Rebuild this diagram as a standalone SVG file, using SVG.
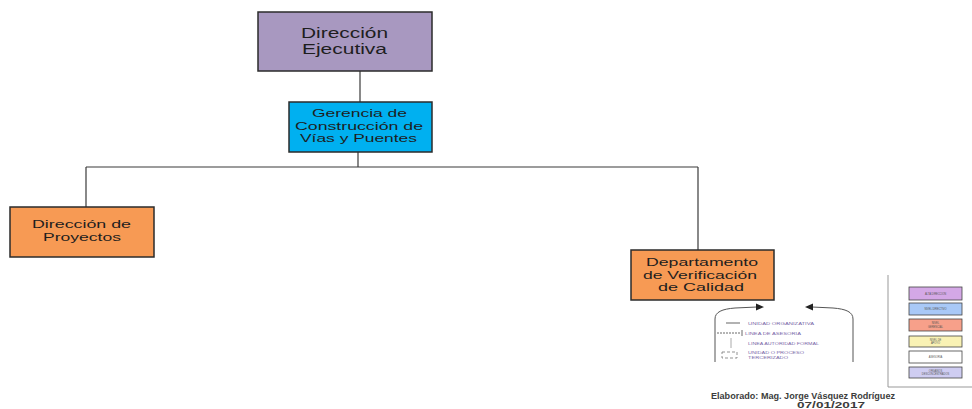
<svg xmlns="http://www.w3.org/2000/svg" width="972" height="409" viewBox="0 0 972 409">
<style>
.box{stroke:#2b2b2b;stroke-width:1.5}
.t{font-family:"Liberation Sans",Arial,sans-serif;fill:#1e1e1e;text-anchor:middle}
.t1{font-size:14px}
.t2{font-size:11px}
.t3{font-size:11.5px}
.con{stroke:#3a3a3a;stroke-width:1.2;fill:none}
.leg{stroke:#555;stroke-width:1;fill:none}
.lt{font-family:"Liberation Sans",Arial,sans-serif;font-size:4.2px;fill:#7a68a8}
.rb{stroke:#444;stroke-width:0.8}
.rt{font-family:"Liberation Sans",Arial,sans-serif;font-size:2.6px;fill:#555;text-anchor:middle}
.ft{font-family:"Liberation Sans",Arial,sans-serif;font-size:9px;fill:#3c3c3c;font-weight:bold}
</style>
<rect width="972" height="409" fill="#ffffff"/>
<g id="connectors">
<line class="con" x1="360" y1="71" x2="360" y2="102"/>
<line class="con" x1="358" y1="152" x2="358" y2="167"/>
<line class="con" x1="86" y1="167" x2="698" y2="167"/>
<line class="con" x1="86" y1="167" x2="86" y2="207"/>
<line class="con" x1="698" y1="167" x2="698" y2="250"/>
</g>
<g id="direccion-ejecutiva">
<rect class="box" x="258" y="12" width="174" height="59" fill="#a898c0"/>
<text class="t t1" x="344.5" y="38" textLength="87" lengthAdjust="spacingAndGlyphs">Dirección</text>
<text class="t t1" x="344.5" y="54" textLength="85" lengthAdjust="spacingAndGlyphs">Ejecutiva</text>
</g>
<g id="gerencia">
<rect class="box" x="289" y="102" width="143" height="50" fill="#00b0f0"/>
<text class="t t2" x="359.5" y="117" textLength="95" lengthAdjust="spacingAndGlyphs">Gerencia de</text>
<text class="t t2" x="359" y="129.5" textLength="128" lengthAdjust="spacingAndGlyphs">Construcción de</text>
<text class="t t2" x="358.5" y="142" textLength="117" lengthAdjust="spacingAndGlyphs">Vías y Puentes</text>
</g>
<g id="direccion-proyectos">
<rect class="box" x="10" y="207" width="144" height="50" fill="#f79a54"/>
<text class="t t3" x="81.5" y="228" textLength="99" lengthAdjust="spacingAndGlyphs">Dirección de</text>
<text class="t t3" x="82" y="240.5" textLength="78" lengthAdjust="spacingAndGlyphs">Proyectos</text>
</g>
<g id="departamento-verificacion">
<rect class="box" x="631" y="250" width="143" height="50" fill="#f79a54"/>
<text class="t t3" x="702" y="266" textLength="112" lengthAdjust="spacingAndGlyphs">Departamento</text>
<text class="t t3" x="700" y="278.5" textLength="114" lengthAdjust="spacingAndGlyphs">de Verificación</text>
<text class="t t3" x="701" y="291" textLength="86" lengthAdjust="spacingAndGlyphs">de Calidad</text>
</g>
<g id="legend-lines">
<path class="leg" d="M715,362 L715,319 C715,312 722,309 735,308"/>
<line x1="735" y1="308" x2="757" y2="307" stroke="#555" stroke-width="1"/>
<path d="M764,307 L756,303.5 L756,310.5 Z" fill="#222" stroke="none"/>
<path class="leg" d="M853,362 L853,319 C853,312 846,309 833,308"/>
<line x1="833" y1="308" x2="812" y2="307" stroke="#555" stroke-width="1"/>
<path d="M805,307 L813,303.5 L813,310.5 Z" fill="#222" stroke="none"/>
<line x1="726" y1="323" x2="740" y2="323" stroke="#999" stroke-width="1.5"/>
<text class="lt" x="748" y="324.5" textLength="66" lengthAdjust="spacingAndGlyphs">UNIDAD ORGANIZATIVA</text>
<line x1="717" y1="333" x2="741" y2="333" stroke="#444" stroke-width="0.8" stroke-dasharray="2,1"/>
<line x1="742" y1="330" x2="742" y2="336" stroke="#444" stroke-width="0.8"/>
<text class="lt" x="745" y="334.5" textLength="56" lengthAdjust="spacingAndGlyphs">LINEA DE ASESORIA</text>
<line x1="731" y1="338" x2="731" y2="348" stroke="#aaa" stroke-width="1"/>
<text class="lt" x="748" y="344.5" textLength="71" lengthAdjust="spacingAndGlyphs">LINEA AUTORIDAD FORMAL</text>
<rect x="722" y="352" width="15" height="6" fill="none" stroke="#666" stroke-width="0.7" stroke-dasharray="3,2"/>
<text class="lt" x="748" y="353.5" textLength="56" lengthAdjust="spacingAndGlyphs">UNIDAD O PROCESO</text>
<text class="lt" x="748" y="358.5" textLength="40" lengthAdjust="spacingAndGlyphs">TERCERIZADO</text>
</g>
<g id="legend-colors">
<path d="M888,275 L888,387 L972,387" fill="none" stroke="#999" stroke-width="1"/>
<rect class="rb" x="909" y="287" width="53" height="13" fill="#d4a8e6"/>
<text class="rt" x="935.5" y="294.5">ALTA DIRECCION</text>
<rect class="rb" x="909" y="303" width="53" height="12" fill="#a9c9f7"/>
<text class="rt" x="935.5" y="310">NIVEL DIRECTIVO</text>
<rect class="rb" x="909" y="319" width="53" height="12" fill="#f7a08a"/>
<text class="rt" x="935.5" y="324">NIVEL</text>
<text class="rt" x="935.5" y="327.5">GERENCIAL</text>
<rect class="rb" x="909" y="336" width="53" height="11" fill="#f9f2b4"/>
<text class="rt" x="935.5" y="340.5">NIVEL DE</text>
<text class="rt" x="935.5" y="344">APOYO</text>
<rect class="rb" x="909" y="351" width="53" height="12" fill="#ffffff"/>
<text class="rt" x="935.5" y="358">ASESORIA</text>
<rect class="rb" x="909" y="367" width="53" height="11" fill="#cfcdf2"/>
<text class="rt" x="935.5" y="371.5">ORGANOS</text>
<text class="rt" x="935.5" y="375">DESCONCENTRADOS</text>
</g>
<g id="footer">
<text class="ft" x="711" y="399" textLength="184" lengthAdjust="spacingAndGlyphs">Elaborado: Mag. Jorge Vásquez Rodríguez</text>
<text class="ft" x="797" y="407.5" font-size="8" textLength="68" lengthAdjust="spacingAndGlyphs">07/01/2017</text>
</g>
</svg>
